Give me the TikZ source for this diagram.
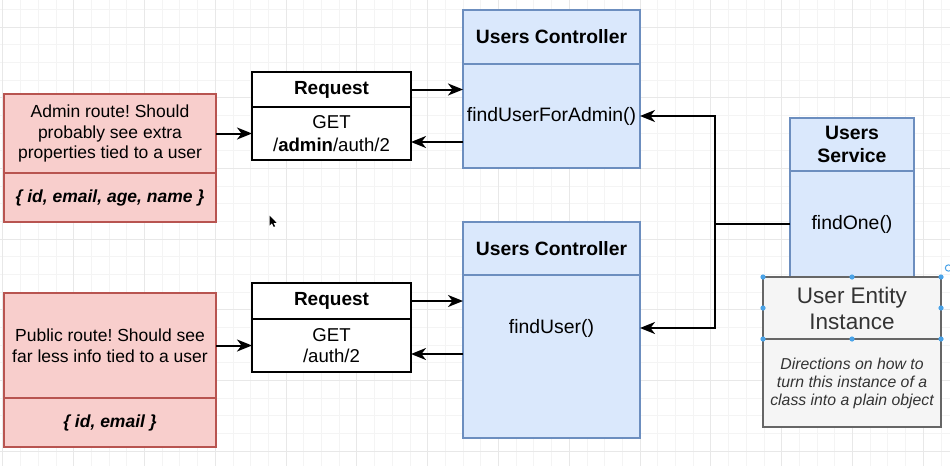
\documentclass[tikz,border=0pt]{standalone}
\usepackage{fontspec}
\setmainfont{Liberation Sans}
\usetikzlibrary{arrows.meta,calc}
\frenchspacing

\definecolor{redfill}{HTML}{F8CECC}
\definecolor{redline}{HTML}{B85450}
\definecolor{bluefill}{HTML}{DAE8FC}
\definecolor{blueline}{HTML}{6C8EBF}
\definecolor{grayfill}{HTML}{F5F5F5}
\definecolor{grayline}{HTML}{666666}
\definecolor{graytext}{HTML}{333333}
\definecolor{gridminor}{HTML}{F4F4F4}
\definecolor{gridmajor}{HTML}{E8E8E8}
\definecolor{handleblue}{HTML}{4AA3E8}

\newcommand{\fsz}[2]{\fontsize{#1}{#2}\selectfont}

\tikzset{
  part/.style={draw, line width=1.6pt, inner sep=0pt, outer sep=0pt,
               anchor=north west, align=center},
  routebox/.style={part, draw=redline, fill=redfill, font=\fsz{17.5}{20.5}},
  reqbox/.style={part, draw=black, fill=white},
  classbox/.style={part, draw=blueline, fill=bluefill},
  entitybox/.style={part, draw=grayline, fill=grayfill, text=graytext},
  arr/.style={line width=2pt, -{Stealth[length=15pt,width=12pt,inset=4.5pt]}},
  wire/.style={line width=2pt},
  handle/.style={fill=handleblue},
  minorline/.style={draw=gridminor, line width=0.8pt},
  majorline/.style={draw=gridmajor, line width=0.9pt},
}

\begin{document}
\begin{tikzpicture}[x=1pt, y=-1pt]
  % canvas and grid
  \useasboundingbox (0,0) rectangle (950,466);
  \fill[white] (0,0) rectangle (950,466);
  \foreach \i in {0,...,53} {
    \draw[minorline] ({2.8+17.7*\i},0) -- ++(0,466);
  }
  \foreach \i in {0,...,26} {
    \draw[minorline] (0,{9.3+17.675*\i}) -- ++(950,0);
  }
  \foreach \i in {0,...,13} {
    \draw[majorline] ({2.8+70.8*\i},0) -- ++(0,466);
  }
  \foreach \i in {0,...,6} {
    \draw[majorline] (0,{27+70.7*\i}) -- ++(950,0);
  }

  % admin route
  \node[routebox, minimum width=212, minimum height=79] (adminHead) at (4,94)
    {Admin route! Should\\probably see extra\\properties tied to a user};
  \node[routebox, minimum width=212, minimum height=49] (adminBody) at (4,173)
    {\bfseries\itshape \{ id, email, age, name \}};

  % public route
  \node[routebox, minimum width=212, minimum height=105] (pubHead) at (4,293)
    {Public route! Should see\\far less info tied to a user};
  \node[routebox, minimum width=212, minimum height=49] (pubBody) at (4,398)
    {\bfseries\itshape \{ id, email \}};

  % requests
  \node[reqbox, minimum width=159, minimum height=35, font=\fsz{19}{22}\bfseries]
    (reqHeadA) at (252,72) {Request};
  \node[reqbox, minimum width=159, minimum height=53, font=\fsz{18.6}{22.5}]
    (reqBodyA) at (252,107) {GET\\/\textbf{admin}/auth/2};
  \node[reqbox, minimum width=159, minimum height=36, font=\fsz{19}{22}\bfseries]
    (reqHeadB) at (252,283) {Request};
  \node[reqbox, minimum width=159, minimum height=53, font=\fsz{18.6}{21.5}]
    (reqBodyB) at (252,319) {GET\\/auth/2};

  % controllers
  \node[classbox, minimum width=177, minimum height=54, font=\fsz{19.3}{23}\bfseries]
    (ctrlHeadA) at (463,10) {Users Controller};
  \node[classbox, minimum width=177, minimum height=104, font=\fsz{19.4}{23}]
    (ctrlBodyA) at (463,64) {findUserForAdmin()};
  \node[classbox, minimum width=177, minimum height=53, font=\fsz{19.3}{23}\bfseries]
    (ctrlHeadB) at (463,222) {Users Controller};
  \node[classbox, minimum width=177, minimum height=163] (ctrlBodyB) at (463,275) {};
  \node[font=\fsz{19.4}{23}, inner sep=0pt] (fuB) at (551.5,328) {findUser()};

  % service
  \node[classbox, minimum width=124, minimum height=53, font=\fsz{19.4}{23}\bfseries]
    (svcHead) at (790,118) {Users\\Service};
  \node[classbox, minimum width=124, minimum height=106, font=\fsz{19.4}{23}]
    (svcBody) at (790,171) {findOne()};

  % entity
  \node[entitybox, minimum width=178, minimum height=62, font=\fsz{22.5}{26}]
    (entHead) at (763,277) {User Entity\\Instance};
  \node[entitybox, minimum width=178, minimum height=88, font=\fsz{15.8}{18}\itshape]
    (entBody) at (763,339)
    {Directions on how to\\turn this instance of a\\class into a plain object};

  % selection frame on the entity title
  \draw[grayline, dashed, line width=0.6pt] (entHead.north west) rectangle (entHead.south east);
  \foreach \a in {north west,north,north east,west,east,south west,south,south east} {
    \fill[handle] (entHead.\a) circle (2.6);
  }
  \draw[handleblue, line width=1pt] (948.5,268) circle (3.2);

  % connectors
  \draw[arr] (adminHead.east) -- (adminHead.east -| reqBodyA.west);
  \draw[arr] (reqHeadA.east) -- (reqHeadA.east -| ctrlBodyA.west);
  \draw[arr] ($(reqBodyA.east -| ctrlBodyA.west)+(0,8.5)$) -- ($(reqBodyA.east)+(0,8.5)$);

  \draw[arr] (pubHead.east) -- (pubHead.east -| reqBodyB.west);
  \draw[arr] (reqHeadB.east) -- (reqHeadB.east -| ctrlBodyB.west);
  \draw[arr] ($(reqBodyB.east -| ctrlBodyB.west)+(0,8.5)$) -- ($(reqBodyB.east)+(0,8.5)$);

  \coordinate (j) at (715,224);
  \draw[wire] (svcBody.west) -- (j);
  \draw[arr] (j) |- (ctrlBodyA.east);
  \draw[arr] (j) |- (fuB -| ctrlBodyB.east);

  % pointer
  \fill[black] (269.5,215.5) -- ++(0,10) -- ++(2.4,-2.2) -- ++(1.8,3.6) -- ++(1.4,-0.7)
    -- ++(-1.8,-3.4) -- ++(3.2,0) -- cycle;
\end{tikzpicture}
\end{document}
